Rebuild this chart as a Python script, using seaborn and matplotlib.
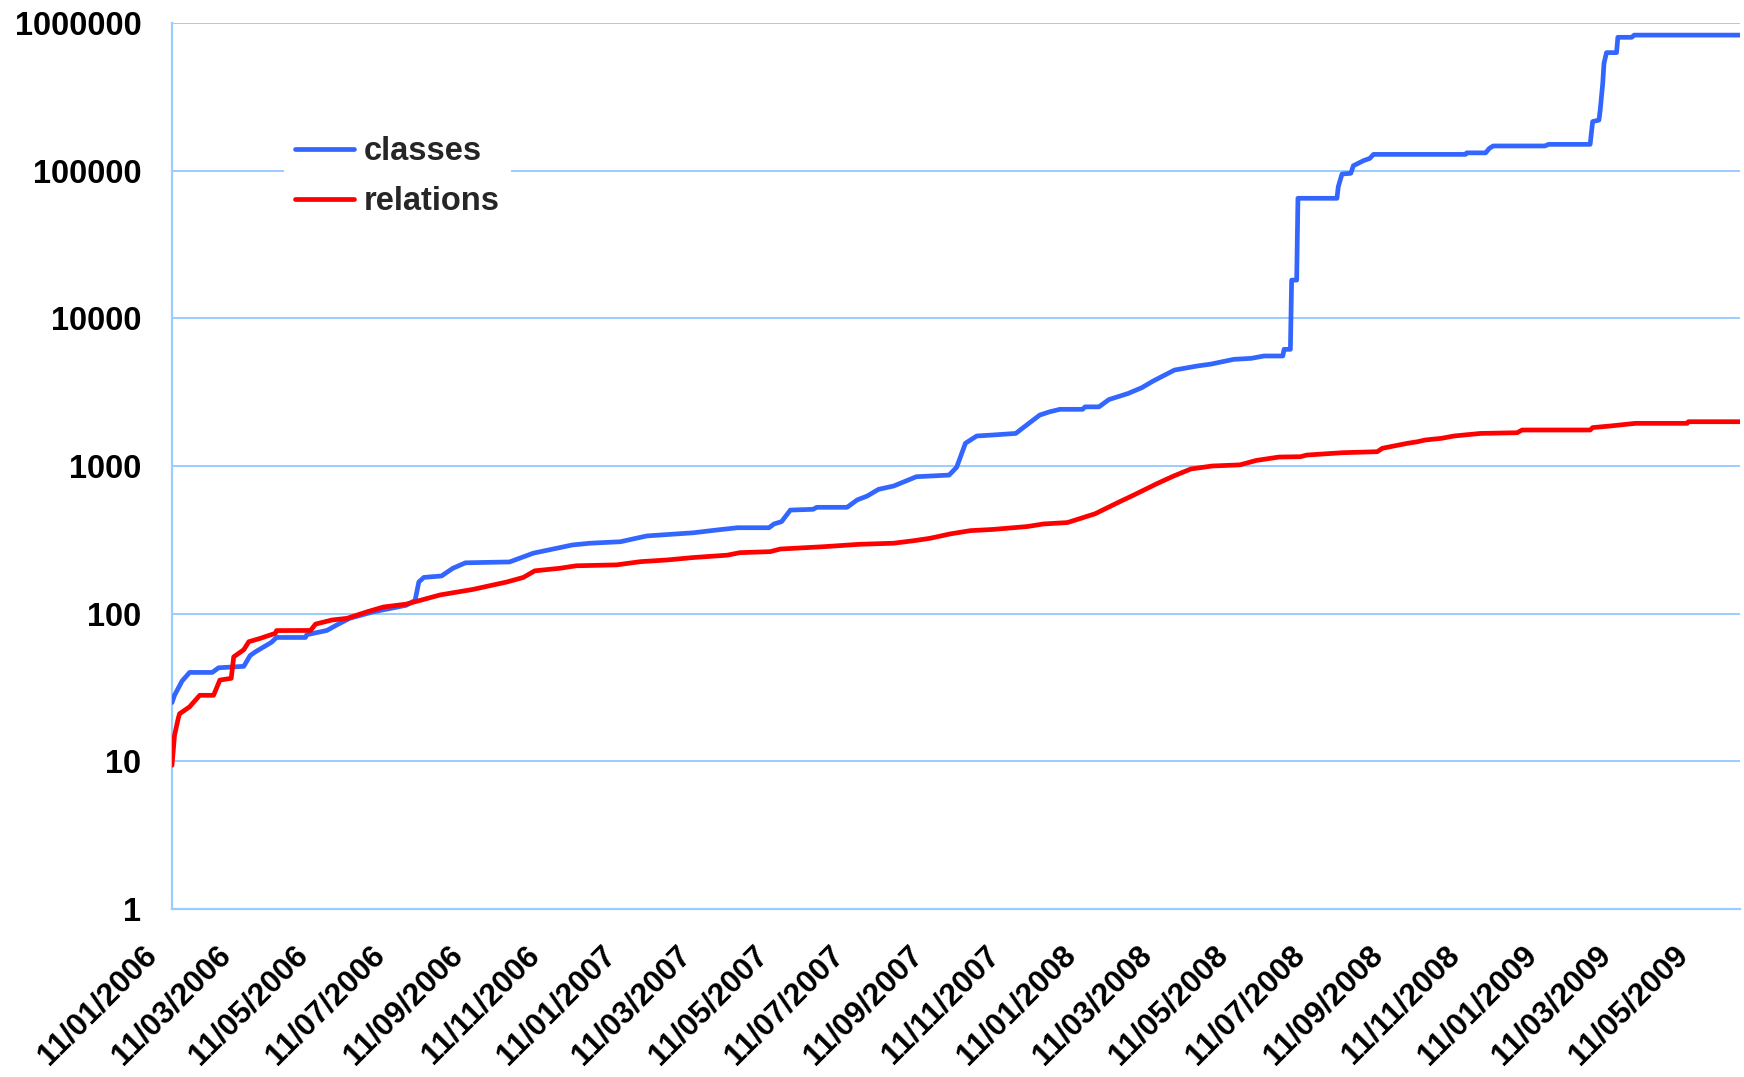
import matplotlib
matplotlib.use("Agg")
import matplotlib.pyplot as plt
from matplotlib.transforms import ScaledTranslation
import seaborn as sns
import pandas as pd

START = "2006-01-11"
END = "2009-06-09"

# days since START
classes_days = [0, 2, 8, 14, 32, 37, 57, 62, 66, 79, 83, 106, 107, 123, 131, 141, 160, 186,
                193, 196, 200, 214, 223, 233, 268, 287, 299, 318, 332, 356, 377, 414, 433,
                449, 474, 478, 484, 491, 509, 512, 536, 544, 552, 561, 573, 591, 617, 623,
                630, 639, 652, 670, 676, 689, 697, 705, 723, 725, 736, 744, 759, 770, 779,
                796, 814, 825, 843, 857, 867, 882, 883, 888, 889, 893, 894, 925, 926, 929,
                936, 938, 946, 951, 954, 1027, 1028, 1043, 1046, 1049, 1090, 1093, 1126,
                1128, 1133, 1134, 1136, 1137, 1139, 1147, 1148, 1159, 1161, 1245]
classes_vals = [25, 28, 35, 40, 40, 43, 44, 52, 55, 64, 69, 69, 72, 77, 84, 93, 103, 114,
                123, 164, 176, 180, 203, 221, 224, 257, 270, 292, 300, 307, 336, 353, 369,
                382, 382, 405, 420, 503, 509, 525, 525, 589, 626, 695, 732, 846, 868, 980,
                1426, 1597, 1622, 1662, 1822, 2213, 2330, 2420, 2420, 2515, 2515, 2820,
                3095, 3390, 3760, 4465, 4755, 4900, 5275, 5360, 5560, 5560, 6165, 6165,
                18150, 18150, 65000, 65000, 77700, 94900, 96000, 108000, 116800, 121000,
                128900, 128900, 132000, 132000, 141600, 147000, 147000, 150700, 150700,
                215000, 220000, 257000, 390000, 533000, 630000, 630000, 800000, 800000,
                828000, 828000]

relations_days = [0, 2, 5, 6, 14, 22, 33, 38, 47, 49, 57, 61, 70, 82, 83, 110, 114, 127,
                  139, 155, 168, 186, 213, 239, 266, 279, 288, 308, 321, 353, 372, 393, 414,
                  441, 451, 475, 483, 517, 546, 573, 589, 602, 618, 634, 652, 679, 692, 711,
                  733, 751, 764, 782, 795, 809, 826, 848, 861, 879, 896, 901, 929, 957, 961,
                  970, 981, 989, 995, 1008, 1018, 1039, 1068, 1072, 1126, 1128, 1142, 1162,
                  1203, 1204, 1245]
relations_vals = [9.4, 15, 19.6, 21, 23.4, 28, 28, 35.5, 36.5, 51, 57, 64.6, 68, 73.6, 76.8,
                  77, 85, 90.6, 93, 103, 111, 116, 134, 146, 164, 176, 195, 203, 211, 214,
                  225, 231, 240, 249, 259, 263, 274, 284, 295, 300, 312, 324, 347, 365, 372,
                  389, 405, 414, 475, 565, 638, 759, 853, 955, 1000, 1018, 1091, 1150, 1156,
                  1186, 1230, 1250, 1318, 1365, 1425, 1460, 1500, 1540, 1597, 1662, 1680,
                  1753, 1753, 1820, 1866, 1945, 1945, 1995, 1995]

tick_dates = ["2006-01-11", "2006-03-11", "2006-05-11", "2006-07-11", "2006-09-11",
              "2006-11-11", "2007-01-11", "2007-03-11", "2007-05-11", "2007-07-11",
              "2007-09-11", "2007-11-11", "2008-01-11", "2008-03-11", "2008-05-11",
              "2008-07-11", "2008-09-11", "2008-11-11", "2009-01-11", "2009-03-11",
              "2009-05-11"]
tick_labels = ["11/01/2006", "11/03/2006", "11/05/2006", "11/07/2006", "11/09/2006",
               "11/11/2006", "11/01/2007", "11/03/2007", "11/05/2007", "11/07/2007",
               "11/09/2007", "11/11/2007", "11/01/2008", "11/03/2008", "11/05/2008",
               "11/07/2008", "11/09/2008", "11/11/2008", "11/01/2009", "11/03/2009",
               "11/05/2009"]
y_ticks = [1, 10, 100, 1000, 10000, 100000, 1000000]
y_tick_labels = ["1", "10", "100", "1000", "10000", "100000", "1000000"]

series_names = ["classes", "relations"]
colors = {"classes": "#3366FF", "relations": "#FF0000"}
GRID = "#99CCFF"

start = pd.Timestamp(START)
df = pd.concat([
    pd.DataFrame({"date": start + pd.to_timedelta(classes_days, unit="D"),
                  "value": classes_vals, "series": "classes"}),
    pd.DataFrame({"date": start + pd.to_timedelta(relations_days, unit="D"),
                  "value": relations_vals, "series": "relations"}),
], ignore_index=True)

sns.set_theme(style="white")
plt.rcParams["font.family"] = ["Liberation Sans", "DejaVu Sans"]
plt.rcParams["font.weight"] = "bold"

fig = plt.figure(figsize=(17.44, 10.77), dpi=100)
ax = fig.add_axes([172 / 1744, 1 - 909 / 1077, (1740 - 172) / 1744, (909 - 23) / 1077])

sns.lineplot(data=df, x="date", y="value", hue="series", hue_order=series_names,
             palette=colors, estimator=None, linewidth=3.4, ax=ax, zorder=3)

ax.set_yscale("log")
ax.set_ylim(1, 1000000)
ax.set_xlim(pd.Timestamp(START), pd.Timestamp(END))
ax.set_yticks(y_ticks)
ax.set_yticklabels(y_tick_labels)
ax.yaxis.set_minor_locator(matplotlib.ticker.NullLocator())
ax.set_xticks(pd.to_datetime(tick_dates))
ax.set_xticklabels(tick_labels)
ax.set_xlabel("")
ax.set_ylabel("")

ax.grid(axis="y", color=GRID, linewidth=1.4, zorder=0)
ax.grid(axis="x", visible=False)
for s in ["top", "right"]:
    ax.spines[s].set_visible(False)
for s in ["left", "bottom"]:
    ax.spines[s].set_color(GRID)
    ax.spines[s].set_linewidth(1.6)

ax.tick_params(axis="both", which="major", length=8, width=1.6, color=GRID,
               labelcolor="black")
ax.tick_params(axis="y", pad=14, labelsize=23.5)
ax.tick_params(axis="x", pad=22, labelsize=22.5)
for lbl in ax.get_yticklabels():
    lbl.set_fontweight("bold")
offset = ScaledTranslation(-20 / 100, 0, fig.dpi_scale_trans)
for lbl in ax.get_xticklabels():
    lbl.set_fontweight("bold")
    lbl.set_rotation(45)
    lbl.set_ha("right")
    lbl.set_va("center")
    lbl.set_rotation_mode("anchor")
    lbl.set_transform(lbl.get_transform() + offset)

handles, labels = ax.get_legend_handles_labels()
leg = ax.legend(handles, labels, loc="upper left", bbox_to_anchor=(0.0714, 0.885),
                borderaxespad=0, frameon=True, fancybox=False, facecolor="white",
                edgecolor="none", framealpha=1, prop={"size": 23.5, "weight": "bold"},
                handlelength=1.8, handletextpad=0.3, labelspacing=0.58, borderpad=0.35)
for line in leg.get_lines():
    line.set_linewidth(3.4)

fig.savefig("out.png", dpi=100)
